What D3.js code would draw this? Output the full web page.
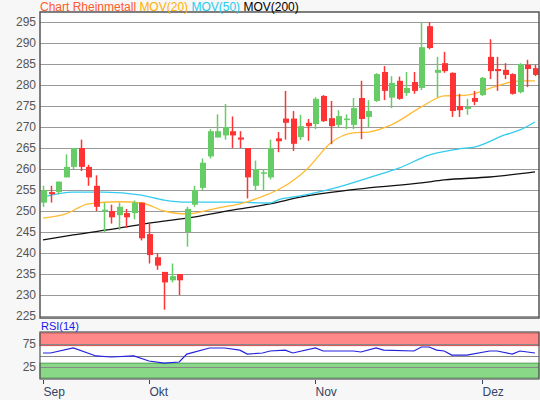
<!DOCTYPE html>
<html>
<head>
<meta charset="utf-8">
<script src="https://cdn.jsdelivr.net/npm/d3@7"></script>
<style>
body { margin: 0; background: #f7f7f7; }
svg { display: block; font-family: Arial, "Liberation Sans", sans-serif; }
</style>
</head>
<body>
<svg id="chart" width="540" height="400"></svg>
<script>
// candles: open, close, high, low
var opens  = [252,254.5,254.5,258,260.5,265,260.5,256,250,250,249,249.5,249.5,252,244.5,239,235.5,233.5,235,245,251.5,255.5,263,267.5,268,269,267.5,265,256,259,258,267.3,272,272,267.6,271,270.7,277.4,272.1,270.5,271.9,270.5,276.9,272.4,276.2,283.1,277,281,278.1,280.7,279.3,294,282.9,285.2,282.9,275,274.3,276.9,277.6,286.7,283.8,283.6,282.6,278.3,284.8,284];
var closes = [255,254,257,260.5,265,260.5,258,251,250.3,248.5,251,248.5,252,243.5,239.5,237,233,234.5,233.5,250.5,255,261.5,269,269,270,268,267,258,260,259.2,265,266.6,271,266,270.2,270.2,276.7,271.4,270.2,272.6,272,274.5,271.9,273.8,282.6,278.6,280.5,276.7,279.3,278.6,289,288.8,283.6,283.3,273.8,274,274.8,276,281.7,283.3,283.3,282.4,277.9,285,283.8,282.4];
var highs  = [256,256,257,263.5,265,267,261,258.5,252,251.5,252,250.5,252.5,252,247,240,235.5,237.5,235,251,256,262.5,269.5,273,275.5,272.5,269,265,262,260,267,268.8,278.6,273.8,272.9,271.9,277.1,277.6,276.2,274,273,276.9,281,276.4,282.8,284.5,282.1,282,283.1,283.1,295,295,286.7,287.9,283,277.9,276.7,278.6,281.9,290.9,286.7,285.2,282.8,285.2,286,284.8];
var lows   = [251,252,254,258,260,259.5,256,250,245,247,245.5,246,248,243,237.5,236,226.5,233,230,241.5,251,255,262.5,267.5,267,265,265,253,255,255,257.5,264,267,264.3,266.9,266.7,269.5,271.2,265.9,270,269.5,269.5,267.1,270,276,276.4,274.5,276.5,277.4,277.9,278.8,288.5,277.1,282.9,272.4,272.4,272.9,275.2,277.4,281.4,278.6,281.4,277.7,278,279.5,282.1];
var tickIdx = [0, 14, 36, 58];
var tickLabels = ["Sep", "Okt", "Nov", "Dez"];
var priceTicks = [225,230,235,240,245,250,255,260,265,270,275,280,285,290,295];
// moving averages read at [candle index, value]
var mov20 = [[0,248.3],[3,249.3],[6,251.7],[10,252.2],[13,251.9],[16,250],[19,249.3],[23,250.7],[27,252.2],[29,253.5],[31,255],[34,258.6],[35,260.2],[38,266.2],[41,268.6],[43,268.8],[46,270.5],[50,274.8],[53,277.4],[56,277.6],[60,279.8],[63,281],[65,281]];
var mov50 = [[0,253.3],[4,254.5],[8,254.5],[13,253.8],[16,252.6],[19,252.1],[25,252.1],[30,251.9],[31,252.6],[34,253.6],[39,255.7],[43,257.9],[47,260.2],[51,263.3],[55,264.8],[57,265.2],[61,268.1],[63,269.3],[65,271.2]];
var mov200 = [[0,243.1],[4,244.3],[10,245.9],[14,247.1],[19,248.3],[25,250.2],[30,251.7],[34,253.3],[43,255.5],[50,256.7],[53,257.4],[59,258.1],[65,259.3]];
var rsi = [[0,55.6],[1,55.6],[4,66.7],[7,49],[9,46.7],[12,49],[14,37.8],[16,33],[18,35.6],[19,53],[22,66.7],[24,66.7],[26,62],[27,53],[29,55.6],[30,60],[32,62],[33,55.6],[36,66.7],[37,60],[41,60],[42,57.8],[44,66.7],[45,62],[49,60],[50,68.9],[51,68.9],[52,62],[53,60],[54,51],[56,51],[59,60],[60,60],[62,53],[63,60],[65,55.6]];

var svg = d3.select("#chart");
var L = 40, R = 539, T = 12, B = 318, rT = 332, rB = 379;

var x = d3.scaleLinear().domain([0, opens.length - 1]).range([43, 535]);
var y = d3.scaleLinear().domain([225, 295]).range([316, 22]);
var yr = d3.scaleLinear().domain([0, 100]).range([378, 333]);

// main panel
svg.append("rect").attr("x", L).attr("y", T).attr("width", R - L).attr("height", B - T).attr("fill", "#fff");
svg.append("g").selectAll("line").data(priceTicks).join("line")
	.attr("x1", L).attr("x2", R).attr("y1", function(d){ return Math.round(y(d)) + 0.5; }).attr("y2", function(d){ return Math.round(y(d)) + 0.5; })
	.attr("stroke", "#999").attr("stroke-width", 1);
svg.append("g").selectAll("text").data(priceTicks).join("text")
	.attr("x", 36).attr("y", function(d){ return y(d) + 4; })
	.attr("text-anchor", "end").attr("font-size", 12).attr("fill", "#555")
	.text(function(d){ return d; });

var line = d3.line().x(function(d){ return x(d[0]); }).y(function(d){ return y(d[1]); }).curve(d3.curveMonotoneX);
svg.append("path").attr("d", line(mov200)).attr("fill", "none").attr("stroke", "#111").attr("stroke-width", 1.3);
svg.append("path").attr("d", line(mov50)).attr("fill", "none").attr("stroke", "#33ccee").attr("stroke-width", 1.3);
svg.append("path").attr("d", line(mov20)).attr("fill", "none").attr("stroke", "#ffbb33").attr("stroke-width", 1.3);

var candles = svg.append("g").selectAll("g").data(opens).join("g");
function col(i){ return closes[i] >= opens[i] ? "#66cc66" : "#ff3333"; }
candles.append("line")
	.attr("x1", function(d, i){ return Math.round(x(i)) + 0.5; }).attr("x2", function(d, i){ return Math.round(x(i)) + 0.5; })
	.attr("y1", function(d, i){ return y(highs[i]); }).attr("y2", function(d, i){ return y(lows[i]); })
	.attr("stroke", function(d, i){ return col(i); }).attr("stroke-width", 1.5);
candles.append("rect")
	.attr("x", function(d, i){ return Math.round(x(i)) - 2; }).attr("width", 6)
	.attr("y", function(d, i){ return y(Math.max(opens[i], closes[i])); })
	.attr("height", function(d, i){ return Math.max(1.5, Math.abs(y(opens[i]) - y(closes[i]))); })
	.attr("fill", function(d, i){ return col(i); });

svg.append("rect").attr("x", L).attr("y", T).attr("width", R - L).attr("height", B - T)
	.attr("fill", "none").attr("stroke", "#555").attr("stroke-width", 1.5);

// title
var title = svg.append("text").attr("x", 40).attr("y", 11).attr("font-size", 12);
title.append("tspan").attr("fill", "#ff5a2a").text("Chart Rheinmetall ");
title.append("tspan").attr("fill", "#ffb000").text("MOV(20) ");
title.append("tspan").attr("fill", "#22ccee").text("MOV(50) ");
title.append("tspan").attr("fill", "#000").text("MOV(200)");

// RSI panel
svg.append("rect").attr("x", L).attr("y", rT).attr("width", R - L).attr("height", rB - rT).attr("fill", "#fff");
svg.append("rect").attr("x", L).attr("y", yr(100)).attr("width", R - L).attr("height", yr(72) - yr(100))
	.attr("fill", "#ff8888").attr("stroke", "#cc5555");
svg.append("rect").attr("x", L).attr("y", yr(33)).attr("width", R - L).attr("height", yr(0) - yr(33))
	.attr("fill", "#88d888").attr("stroke", "#55a055");
svg.append("g").selectAll("line").data([75, 50, 25]).join("line")
	.attr("x1", L).attr("x2", R).attr("y1", function(d){ return Math.round(yr(d)) + 0.5; }).attr("y2", function(d){ return Math.round(yr(d)) + 0.5; })
	.attr("stroke", "#888");
svg.append("g").selectAll("text").data([75, 25]).join("text")
	.attr("x", 36).attr("y", function(d){ return yr(d) + 4; })
	.attr("text-anchor", "end").attr("font-size", 12).attr("fill", "#555")
	.text(function(d){ return d; });
var rline = d3.line().x(function(d){ return x(d[0]); }).y(function(d){ return yr(d[1]); });
svg.append("path").attr("d", rline(rsi)).attr("fill", "none").attr("stroke", "#2222dd").attr("stroke-width", 1.2);
svg.append("rect").attr("x", L).attr("y", rT).attr("width", R - L).attr("height", rB - rT)
	.attr("fill", "none").attr("stroke", "#555").attr("stroke-width", 1.2);
svg.append("text").attr("x", 41).attr("y", 330).attr("font-size", 11).attr("fill", "#1a1aee").text("RSI(14)");

// x axis
var xt = svg.append("g").selectAll("g").data(tickIdx).join("g")
	.attr("transform", function(d){ return "translate(" + (Math.round(x(d)) + 0.5) + ",0)"; });
xt.append("line").attr("y1", rB + 1).attr("y2", rB + 5).attr("stroke", "#334466");
xt.append("text").attr("x", 0).attr("y", 396).attr("font-size", 12).attr("fill", "#334466")
	.text(function(d, i){ return tickLabels[i]; });
</script>
</body>
</html>
